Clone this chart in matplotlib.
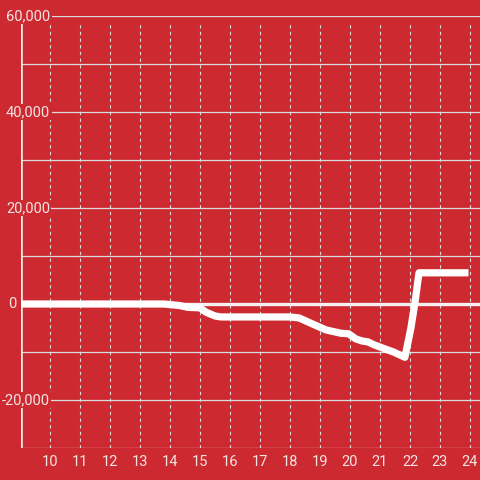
import matplotlib.pyplot as plt
import matplotlib.transforms as mtransforms

plt.rcParams['font.family'] = ['Roboto', 'DejaVu Sans']

# hours vs value
hours = [9.0, 13.8, 14.3, 14.6, 15.0, 15.2, 15.5, 15.7, 18.0, 18.3, 18.8, 19.2,
         19.7, 19.95, 20.2, 20.4, 20.6, 20.8, 21.1, 21.45, 21.83, 22.03, 22.17,
         22.3, 23.95]
values = [0, 0, -300, -700, -800, -1700, -2500, -2700, -2700, -2900, -4300, -5400,
          -6100, -6200, -7300, -7700, -7900, -8500, -9200, -10000, -11100, -5000, 500,
          6500, 6500]

x_ticks = list(range(10, 25))
y_ticks = [-30000, -20000, -10000, 0, 10000, 20000, 30000, 40000, 50000, 60000]
y_labels = {60000: '60,000', 40000: '40,000', 20000: '20,000', 0: '0', -20000: '-20,000'}

bg = '#cc2a30'
txt = '#f3e4e4'
grid = '#dcdcdc'

fig = plt.figure(figsize=(4.8, 4.8), dpi=100, facecolor=bg)
ax = fig.add_axes([21 / 480, 1 - 448 / 480, 1 - 21 / 480, 432 / 480])
ax.set_facecolor(bg)
ax.set_xlim(9.033, 24.333)
ax.set_ylim(-30000, 60000)

for s in ax.spines.values():
    s.set_visible(False)
ax.set_xticks([])
ax.set_yticks([])

for xv in x_ticks:
    ax.plot([xv, xv], [-30000, 58500], color=grid, lw=0.8, ls=(0, (3, 3)), zorder=1)
for yv in y_ticks:
    if yv == 0:
        continue
    ax.axhline(yv, color=grid, lw=0.9, zorder=1)
ax.axhline(0, color='#f4f0f0', lw=2.4, zorder=2)
ax.axvline(9.033, color='#f0eaea', lw=2.6, zorder=2)

ax.plot(hours, values, color='white', lw=5.2, solid_capstyle='butt',
        solid_joinstyle='round', zorder=3)

tr = mtransforms.blended_transform_factory(fig.transFigure, ax.transData)
for yv, lab in y_labels.items():
    xpos = 2 if yv < 0 else (8 if yv == 0 else 6)
    ax.text(xpos / 480, yv, lab, transform=tr, ha='left', va='center',
            color=txt, fontsize=10.5, zorder=5, clip_on=False,
            bbox=dict(facecolor=bg, edgecolor='none', pad=1.0))

for xv in x_ticks:
    ax.text(xv, -30000, str(xv), ha='center', va='top', color=txt, fontsize=10.5,
            transform=ax.transData, clip_on=False)
    ax.texts[-1].set_y(-30000)
# move x labels down
for t in ax.texts[len(y_labels):]:
    t.set_transform(t.get_transform() + mtransforms.ScaledTranslation(0, -7 / 100, fig.dpi_scale_trans))

fig.savefig('out.png', dpi=100, facecolor=bg)
